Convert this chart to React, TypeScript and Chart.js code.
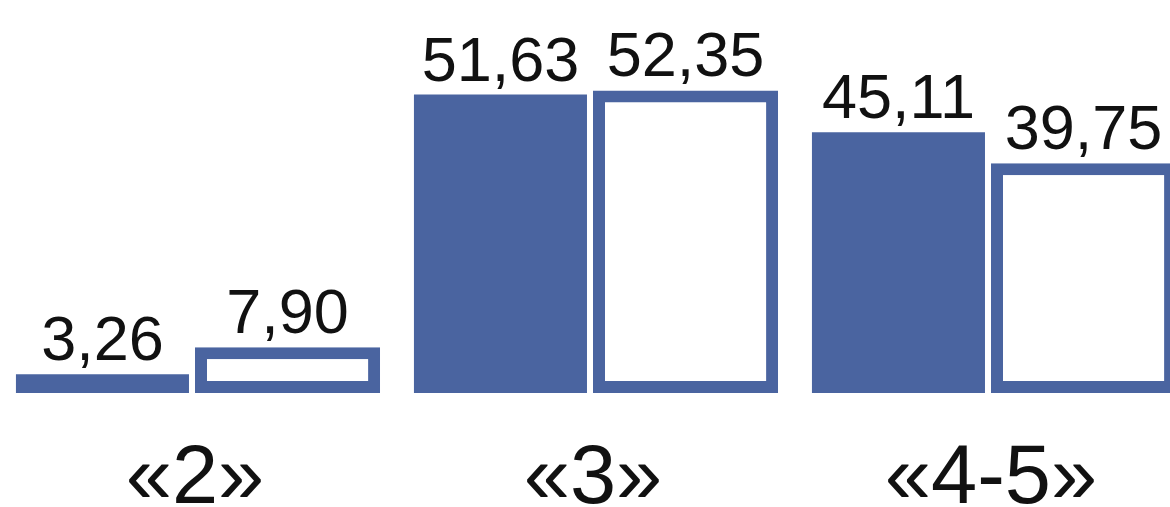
import React, { useEffect, useRef } from "react";
import { Chart, registerables } from "chart.js";

Chart.register(...registerables);

const categories = ["«2»", "«3»", "«4-5»"];
const seriesFilled = [3.26, 51.63, 45.11];
const seriesOutlined = [7.9, 52.35, 39.75];

const BLUE = "#4a64a0";
const FONT = '"Liberation Sans", Arial, sans-serif';

export default function App() {
  const ref = useRef<HTMLCanvasElement>(null);

  useEffect(() => {
    if (!ref.current) return;

    const labelsPlugin = {
      id: "valueAndCategoryLabels",
      afterDatasetsDraw(chart: any) {
        const ctx = chart.ctx;
        ctx.save();
        ctx.fillStyle = "#111111";
        ctx.textAlign = "center";
        ctx.textBaseline = "alphabetic";
        ctx.font = `63px ${FONT}`;
        chart.data.datasets.forEach((ds: any, di: number) => {
          const meta = chart.getDatasetMeta(di);
          meta.data.forEach((el: any, i: number) => {
            const v = ds.data[i] as number;
            ctx.fillText(v.toFixed(2).replace(".", ","), el.x, el.y - 14);
          });
        });
        const xs = chart.scales.x;
        ctx.font = `83px ${FONT}`;
        categories.forEach((c, i) => {
          ctx.fillText(c, xs.getPixelForValue(i), 503);
        });
        ctx.restore();
      },
    };

    const chart = new Chart(ref.current, {
      type: "bar",
      data: {
        labels: categories,
        datasets: [
          {
            label: "filled",
            data: seriesFilled,
            backgroundColor: BLUE,
            borderWidth: 0,
            barPercentage: 0.935,
            categoryPercentage: 0.93,
          },
          {
            label: "outlined",
            data: seriesOutlined,
            backgroundColor: "#ffffff",
            borderColor: BLUE,
            borderWidth: 12,
            borderSkipped: false,
            barPercentage: 1,
            categoryPercentage: 0.93,
          },
        ],
      },
      options: {
        responsive: false,
        animation: false,
        devicePixelRatio: 1,
        layout: { padding: { top: 0, bottom: 114, left: 0, right: 0 } },
        plugins: {
          legend: { display: false },
          tooltip: { enabled: false },
          title: { display: false },
        },
        scales: {
          x: { display: false },
          y: { display: false, min: 0, max: 68 },
        },
      },
      plugins: [labelsPlugin],
    });

    return () => chart.destroy();
  }, []);

  return (
    <div
      style={{
        position: "fixed",
        left: 0,
        top: 0,
        width: 1170,
        height: 507,
        overflow: "hidden",
        background: "#ffffff",
      }}
    >
      <canvas
        ref={ref}
        width={1194}
        height={507}
        style={{ position: "absolute", left: -4, top: 0, width: 1194, height: 507 }}
      />
    </div>
  );
}
